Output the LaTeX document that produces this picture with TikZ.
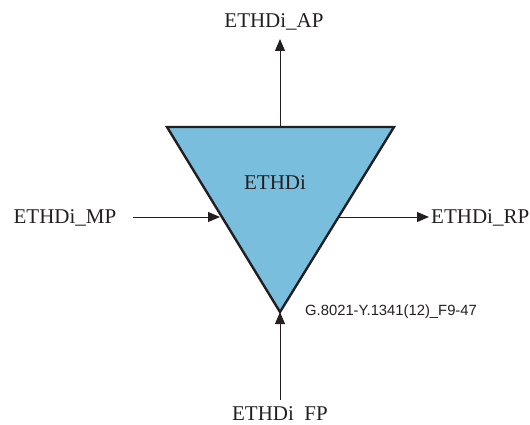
\documentclass[tikz,border=0pt]{standalone}
\usepackage{fontspec}
\setmainfont{Liberation Serif}
\newfontfamily\figsans{Liberation Sans}
\usetikzlibrary{arrows.meta}
\definecolor{triblue}{RGB}{121,190,221}
\definecolor{ink}{RGB}{35,31,32}
\tikzset{
  lbl/.style={inner sep=0pt, anchor=base, text=ink, font=\fontsize{21}{24}\selectfont},
  conn/.style={draw=ink, line width=0.9pt, -{Triangle[length=12pt,width=10pt]}},
  tri/.style={draw=ink, fill=triblue, line width=2.4pt, line join=miter},
}
\begin{document}
\begin{tikzpicture}[x=1pt,y=-1pt]
\useasboundingbox (0,0) rectangle (530,425);
% triangle vertices
\coordinate (tl) at (167,127);
\coordinate (tr) at (394,127);
\coordinate (bt) at (280,312);
\coordinate (tm) at (280,127);
\coordinate (le) at (220,217);
\coordinate (re) at (339,217);
\filldraw[tri] (tl) -- (tr) -- (bt) -- cycle;
\node[lbl] (core) at (275,189) {ETHDi};
% labels
\node[lbl] (ap) at (274,28) {ETHDi\_AP};
\node[lbl] (mp) at (65,223) {ETHDi\_MP};
\node[lbl, anchor=base west] (rp) at (431,223) {ETHDi\_RP};
\begin{scope}
\clip (0,0) rectangle (530,420.6);
\node[lbl] (fp) at (280,420) {ETHDi\_FP};
\end{scope}
\node[inner sep=0pt, anchor=west, text=ink, font=\figsans\fontsize{14.8}{16}\selectfont] (fig) at (305,312) {G.8021-Y.1341(12)\_F9-47};
% connector end points
\coordinate (apt) at (280,39);
\coordinate (mps) at (133,217);
\coordinate (rpt) at (429,217);
\coordinate (fps) at (280,400);
\draw[conn] (tm) -- (apt);
\draw[conn] (mps) -- (le);
\draw[conn] (re) -- (rpt);
\draw[conn] (fps) -- (bt);
\end{tikzpicture}
\end{document}
